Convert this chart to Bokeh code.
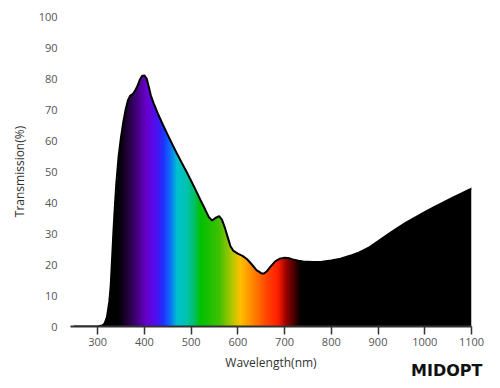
import numpy as np
from bokeh.plotting import figure
from bokeh.models import Range1d, FixedTicker, Title
from bokeh.embed import file_html
from bokeh.resources import INLINE

# ---- data ----
wavelength = [250, 300, 310, 315, 320, 325, 328, 331, 334, 337, 340, 345, 350, 355, 360,
              365, 370, 375, 380, 385, 390, 395, 400, 405, 410, 414, 420, 430, 440, 450,
              460, 470, 480, 490, 500, 510, 520, 530, 538, 545, 552, 560, 566, 572, 578,
              584, 590, 600, 610, 620, 630, 640, 650, 656, 662, 670, 680, 690, 700, 710,
              720, 730, 740, 760, 780, 800, 820, 840, 860, 880, 900, 920, 940, 960, 980,
              1000, 1020, 1040, 1060, 1080, 1100]
transmission = [0, 0, 0.3, 1, 3, 8, 13, 22, 31, 39, 46, 55, 61, 66, 70,
                73, 74.5, 75, 76, 77.5, 79.5, 80.8, 81, 80, 77, 74.5, 72, 68.3, 65, 61.8,
                58.7, 55.7, 52.8, 50, 47, 44, 40.8, 37.8, 35.3, 34.2, 35, 35.6, 34.5, 32, 29,
                26, 24.5, 23.5, 22.8, 21.7, 20, 18.2, 17.2, 17.1, 17.8, 19.3, 21, 21.9, 22.2, 22,
                21.5, 21.2, 21, 20.8, 20.9, 21.3, 21.9, 22.8, 23.9, 25.4, 27.5, 29.6, 31.6, 33.5, 35.2,
                36.9, 38.5, 40, 41.6, 43, 44.5]

x_ticks = [300, 400, 500, 600, 700, 800, 900, 1000, 1100]
y_ticks = [0, 10, 20, 30, 40, 50, 60, 70, 80, 90, 100]

# spectral colour stops for the fill
stop_wl = [250, 340, 350, 378, 405, 425, 440, 452, 470, 490, 505, 520, 560, 585,
           605, 635, 660, 685, 705, 725, 735, 1100]
stop_col = ["#000000", "#000000", "#0a0010", "#3a0068", "#6a00d0", "#5010f0", "#2030ff",
            "#1060ff", "#00c0d0", "#00c4b0", "#00c070", "#00c000", "#40c000", "#a8c800",
            "#ffc000", "#ff8000", "#ff4800", "#ff2000", "#900000", "#300000", "#000000",
            "#000000"]

FONT = "Open Sans"

p = figure(width=492, height=388, output_backend="svg", toolbar_location=None,
           x_range=Range1d(242, 1100), y_range=Range1d(0, 100),
           min_border_left=70, min_border_right=21, min_border_top=16, min_border_bottom=62)
p.outline_line_color = None
p.grid.visible = False
p.background_fill_color = "white"
p.border_fill_color = "white"

# spectral gradient image: one column per nm, transparent above the curve
cols = np.arange(250, 1100) + 0.5
nrows = 180
img_top = 90.0
rows_t = (np.arange(nrows) + 0.5) * (img_top / nrows)
def hex2rgb(h):
    return [int(h[i:i + 2], 16) for i in (1, 3, 5)]
rgb = np.array([hex2rgb(c) for c in stop_col], dtype=float)
curve_at_col = np.interp(cols, wavelength, transmission)
inside = rows_t[:, None] <= curve_at_col[None, :] + 0.6
img = np.zeros((nrows, len(cols)), dtype=np.uint32)
view = img.view(dtype=np.uint8).reshape((nrows, len(cols), 4))
for ch in range(3):
    view[:, :, ch] = np.interp(cols, stop_wl, rgb[:, ch]).astype(np.uint8)[None, :]
view[:, :, 3] = np.where(inside, 255, 0).astype(np.uint8)
p.image_rgba(image=[img], x=250, y=0, dw=850, dh=img_top)

# white mask above the curve (gives the fill a clean upper edge)
p.varea(x=wavelength, y1=transmission, y2=[100] * len(wavelength), fill_color="white")
# outline
p.line(wavelength, transmission, line_color="black", line_width=2)

# axes
p.xaxis.ticker = FixedTicker(ticks=x_ticks)
p.yaxis.ticker = FixedTicker(ticks=y_ticks)
p.xaxis.axis_label = "Wavelength(nm)"
p.yaxis.axis_label = "Transmission(%)"
for ax in (p.xaxis[0], p.yaxis[0]):
    ax.major_label_text_font = FONT
    ax.major_label_text_font_size = "11px"
    ax.major_label_text_color = "#555555"
    ax.axis_label_text_font = FONT
    ax.axis_label_text_font_size = "12px"
    ax.axis_label_text_font_style = "normal"
    ax.axis_label_text_color = "#333333"
    ax.minor_tick_line_color = None

p.xaxis.axis_line_color = "#333333"
p.xaxis.axis_line_width = 2
p.xaxis.major_tick_line_color = "#333333"
p.xaxis.major_tick_line_width = 1.5
p.xaxis.major_tick_out = 8
p.xaxis.major_tick_in = 0
p.xaxis.major_label_standoff = 3
p.xaxis.axis_label_standoff = 5

p.yaxis.axis_line_color = None
p.yaxis.major_tick_line_color = None
p.yaxis.major_tick_out = 0
p.yaxis.major_tick_in = 0
p.yaxis.major_label_standoff = 13
p.yaxis.axis_label_standoff = 8

# logo
logo = Title(text="MIDOPT", align="right", vertical_align="top", text_font="DejaVu Sans",
             text_font_style="bold", text_font_size="16px", text_color="#111111",
             standoff=-25, offset=-11)
p.add_layout(logo, "below")

open("out.html", "w").write(file_html(p, INLINE))
